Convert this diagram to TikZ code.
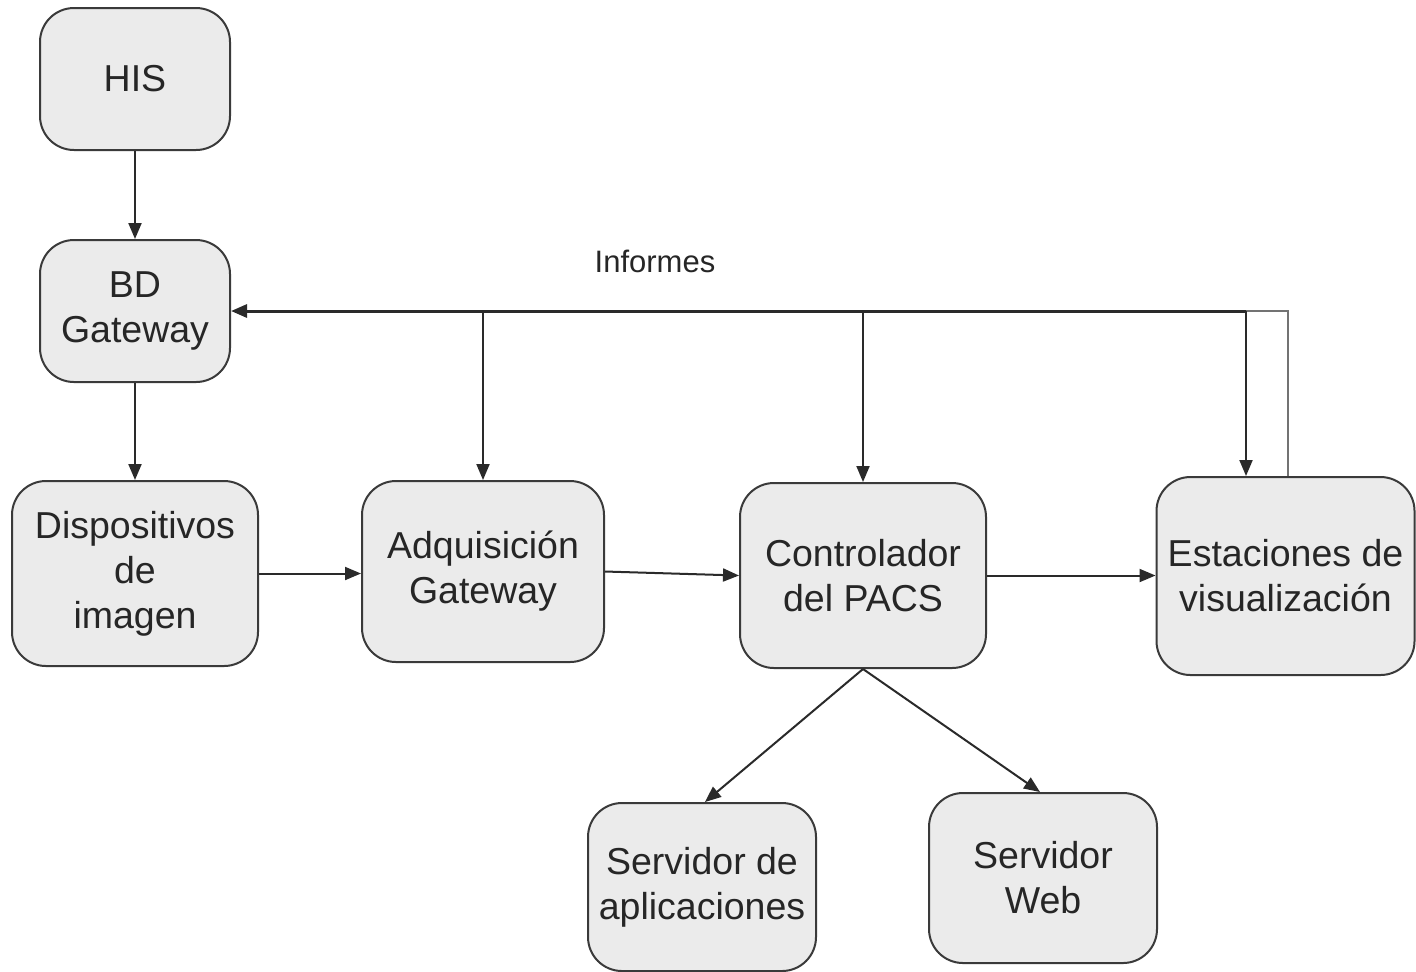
\documentclass[tikz,border=0pt]{standalone}
\usepackage{fontspec}
\setmainfont{Liberation Sans}
\usetikzlibrary{arrows.meta,calc}
\definecolor{boxfill}{HTML}{EBEBEB}
\definecolor{boxline}{HTML}{3A3A3A}
\definecolor{wire}{HTML}{2A2A2A}
\begin{document}
\begin{tikzpicture}[x=0.5pt,y=-0.5pt,
  box/.style={draw=boxline,line width=1pt,fill=boxfill,rounded corners=17pt,
    inner sep=0pt,align=center,font=\fontsize{18.75}{22.5}\selectfont,text=black!85},
  arr/.style={draw=wire,line width=1pt,-{Triangle[length=8pt,width=6.5pt]}},
  wireline/.style={draw=wire,line width=1pt},
  lbl/.style={font=\fontsize{15.5}{18}\selectfont,text=black!85}]
\useasboundingbox (0,0) rectangle (1416,971);
\node[box,minimum width=95pt,minimum height=71pt] (his) at (135,79) {HIS};
\node[box,minimum width=95pt,minimum height=71pt] (bd) at (135,311) {BD\\Gateway};
\node[box,minimum width=123pt,minimum height=92.5pt] (disp) at (135,573.5) {Dispositivos\\de\\imagen};
\node[box,minimum width=121pt,minimum height=90.5pt] (adq) at (483,571.5) {Adquisición\\Gateway};
\node[box,minimum width=123pt,minimum height=92.5pt] (ctrl) at (863,575.5) {Controlador\\del PACS};
\node[box,minimum width=129pt,minimum height=99pt] (est) at (1285.5,576) {Estaciones de\\visualización};
\node[box,minimum width=114pt,minimum height=84pt] (sa) at (702,887) {Servidor de\\aplicaciones};
\node[box,minimum width=114pt,minimum height=85pt] (sw) at (1043,878) {Servidor\\Web};
\node[lbl] (inf) at (655,261) {Informes};

\coordinate (busR) at (1288,311);
\coordinate (busE) at (1246,311);
\coordinate (busC) at (863,311);
\coordinate (busA) at (483,311);

\draw[arr] (his) -- (bd);
\draw[arr] (bd) -- (disp);
\draw[arr] (disp.east) -- (adq.west |- disp.east);
\draw[arr] (adq.east) -- (ctrl.west);
\draw[arr] (ctrl.east) -- (est.west |- ctrl.east);
\draw[arr] (ctrl.south) -- ($(sa.north)+(3,0)$);
\draw[arr] (ctrl.south) -- ($(sw.north)+(-3,0)$);

\draw[wireline,draw=black!55] (est.north -| busR) -- (busR) -- (busE);
\draw[draw=wire,line width=1.5pt,-{Triangle[length=8pt,width=6.5pt]}] (busE) -- (bd.east |- busR);
\draw[arr] (busA) -- (adq.north -| busA);
\draw[arr] (busC) -- (ctrl.north -| busC);
\draw[arr] (busE) -- (est.north -| busE);
\end{tikzpicture}
\end{document}
